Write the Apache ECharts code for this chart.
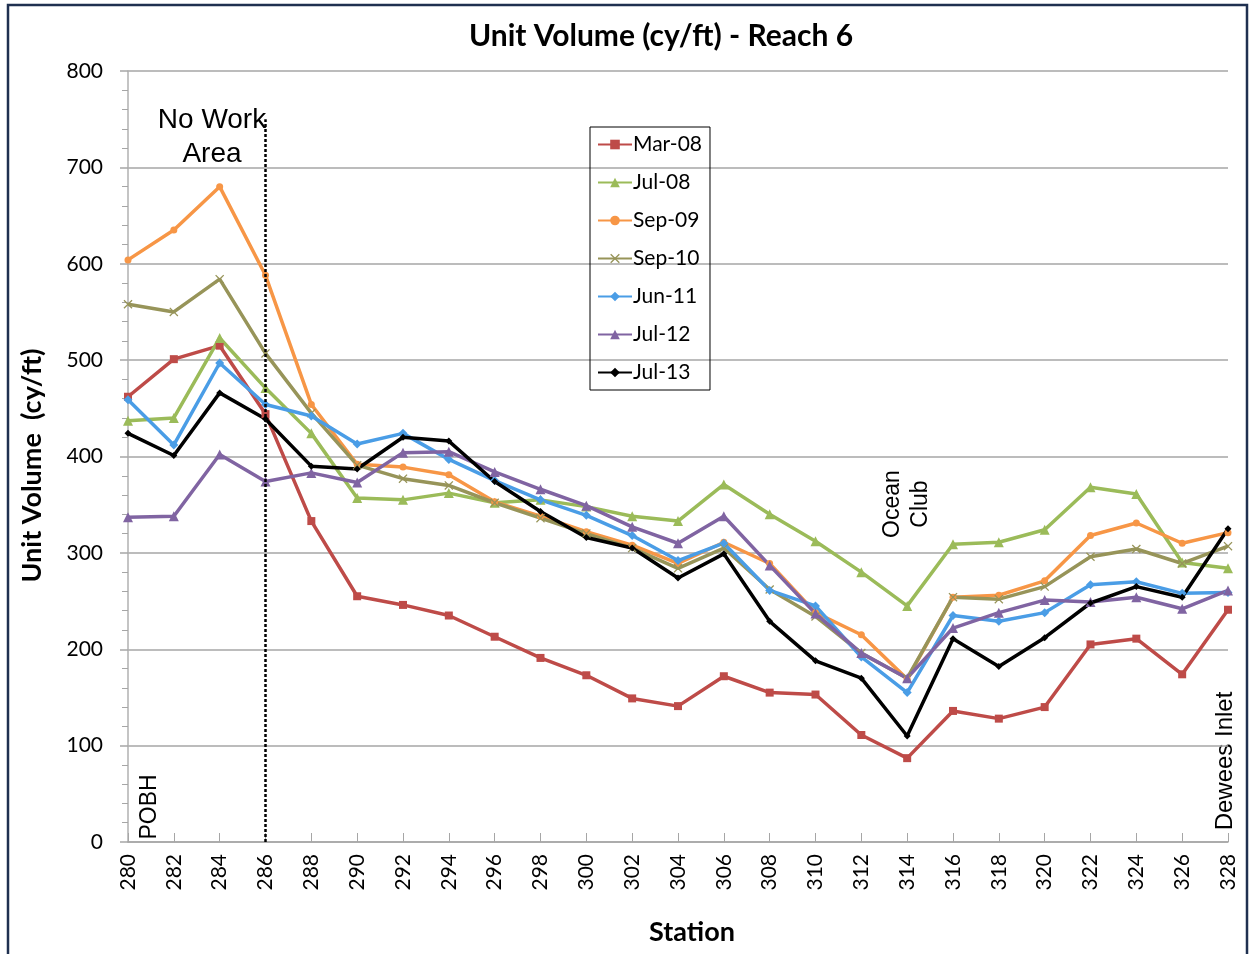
<!DOCTYPE html>
<html>
<head>
<meta charset="utf-8">
<script src="https://cdn.jsdelivr.net/npm/echarts@6/dist/echarts.min.js"></script>
<style>
  html, body { margin: 0; padding: 0; background: #fff; }
  #chart { width: 1249px; height: 954px; }
</style>
</head>
<body>
<div id="chart"></div>
<script>
// stations along the reach
const stations = ['280', '282', '284', '286', '288', '290', '292', '294', '296', '298', '300', '302', '304',
  '306', '308', '310', '312', '314', '316', '318', '320', '322', '324', '326', '328']

// unit volume per survey (cy/ft)
const mar08 = [462, 501, 515, 444, 333, 255, 246, 235, 213, 191, 173, 149, 141, 172, 155, 153, 111, 87, 136, 128, 140, 205, 211, 174, 241]
const jul08 = [437, 440, 523, 471, 424, 357, 355, 362, 352, 355, 348, 338, 333, 371, 340, 312, 280, 245, 309, 311, 324, 368, 361, 290, 284]
const sep09 = [604, 635, 680, 588, 454, 392, 389, 381, 353, 338, 322, 308, 289, 311, 289, 238, 215, 169, 254, 256, 271, 318, 331, 310, 321]
const sep10 = [558, 550, 584, 507, 445, 391, 377, 370, 352, 336, 320, 305, 284, 305, 262, 234, 196, 170, 254, 252, 265, 296, 304, 289, 307]
const jun11 = [459, 412, 497, 454, 442, 413, 424, 397, 375, 355, 339, 318, 292, 310, 261, 245, 192, 155, 235, 229, 238, 267, 270, 258, 259]
const jul12 = [337, 338, 402, 374, 383, 373, 404, 405, 384, 366, 349, 327, 310, 338, 287, 237, 196, 170, 222, 238, 251, 249, 254, 242, 261]
const jul13 = [424, 401, 466, 439, 390, 387, 420, 416, 374, 343, 316, 305, 274, 299, 229, 188, 170, 110, 211, 182, 212, 248, 265, 254, 325]

// y axis ticks
const yMin = 0
const yMax = 800
const yStep = 100

// no-work boundary
const noWorkStation = '286'
const noWorkTop = 750

const xMark = 'path://M0,1L1,0L5,4L9,0L10,1L6,5L10,9L9,10L5,6L1,10L0,9L4,5Z'

const seriesDefs = [
  { name: 'Mar-08', data: mar08, color: '#be4b48', symbol: 'rect', size: 8 },
  { name: 'Jul-08', data: jul08, color: '#9bbb59', symbol: 'triangle', size: 10 },
  { name: 'Sep-09', data: sep09, color: '#f79646', symbol: 'circle', size: 7 },
  { name: 'Sep-10', data: sep10, color: '#979459', symbol: xMark, size: 9 },
  { name: 'Jun-11', data: jun11, color: '#4a9de6', symbol: 'diamond', size: 9 },
  { name: 'Jul-12', data: jul12, color: '#8064a2', symbol: 'triangle', size: 10 },
  { name: 'Jul-13', data: jul13, color: '#000000', symbol: 'diamond', size: 7 }
]

const chart = echarts.init(document.getElementById('chart'))

const series = seriesDefs.map(s => ({
  name: s.name,
  type: 'line',
  data: s.data,
  symbol: s.symbol,
  symbolSize: s.size,
  showAllSymbol: true,
  lineStyle: { color: s.color, width: 3.5 },
  itemStyle: { color: s.color },
  z: 3
}))

// dotted line marking the edge of the no work area
series[0].markLine = {
  silent: true,
  symbol: 'none',
  label: { show: false },
  lineStyle: { color: '#000', type: [3, 2], width: 2.5 },
  data: [[{ coord: [noWorkStation, yMin] }, { coord: [noWorkStation, noWorkTop] }]]
}

const noteFont = 'Liberation Sans, Arial, sans-serif'

const option = {
  animation: false,
  backgroundColor: '#fff',
  title: {
    text: 'Unit Volume (cy/ft) - Reach 6',
    left: 464,
    top: 16,
    textStyle: { fontFamily: 'Lato', fontWeight: 'bold', fontSize: 30, color: '#000' }
  },
  legend: {
    orient: 'vertical',
    left: 590,
    top: 127,
    padding: [7, 8, 7, 7],
    borderColor: '#000',
    borderWidth: 1,
    itemWidth: 34,
    itemHeight: 12,
    itemGap: 17,
    textStyle: { fontFamily: 'Lato', fontSize: 21, color: '#000', lineHeight: 20, padding: [0, 0, 0, -4] },
    data: seriesDefs.map(s => s.name)
  },
  grid: {
    left: 128,
    right: 21,
    top: 71,
    bottom: 112
  },
  xAxis: {
    type: 'category',
    data: stations,
    boundaryGap: false,
    name: 'Station',
    nameLocation: 'middle',
    nameGap: 77,
    nameTextStyle: { fontFamily: 'Lato', fontWeight: 'bold', fontSize: 27, color: '#000', padding: [0, 0, 0, 28] },
    axisLine: { lineStyle: { color: '#a6a6a6', width: 1.5 } },
    axisTick: { show: true, inside: true, length: 9, interval: 0, lineStyle: { color: '#a6a6a6' } },
    axisLabel: { rotate: 90, margin: 12, interval: 0, fontFamily: 'Lato', fontSize: 21, color: '#000' },
    splitLine: { show: false }
  },
  yAxis: [
    {
      type: 'value',
      min: yMin,
      max: yMax,
      interval: yStep,
      name: 'Unit Volume  (cy/ft)',
      nameLocation: 'middle',
      nameGap: 82,
      nameTextStyle: { fontFamily: 'Lato', fontWeight: 'bold', fontSize: 27, color: '#000', padding: [0, 18, 0, 0] },
      axisLine: { show: true, lineStyle: { color: '#b0b0b0', width: 1.5 } },
      axisTick: { show: false },
      minorTick: { show: true, splitNumber: 5, length: 6, lineStyle: { color: '#a6a6a6' } },
      axisLabel: { margin: 25, fontFamily: 'Lato', fontSize: 21, color: '#000' },
      splitLine: { lineStyle: { color: '#a6a6a6', width: 1.5 } }
    },
    {
      // outward major ticks only
      type: 'value',
      position: 'left',
      min: yMin,
      max: yMax,
      interval: yStep,
      axisLine: { show: false },
      axisTick: { show: true, length: 8, lineStyle: { color: '#a6a6a6', width: 1.5 } },
      axisLabel: { show: false },
      splitLine: { show: false }
    }
  ],
  graphic: [
    {
      type: 'rect',
      silent: true,
      shape: { x: 8, y: 5, width: 1239, height: 970 },
      style: { fill: 'none', stroke: '#1f3050', lineWidth: 2.5 }
    },
    {
      type: 'text',
      x: 212, y: 137,
      style: { text: 'No Work\nArea', font: '28px ' + noteFont, fill: '#000', align: 'center', verticalAlign: 'middle', lineHeight: 34 }
    },
    {
      type: 'text',
      x: 150, y: 807, rotation: Math.PI / 2,
      style: { text: 'POBH', font: '23px ' + noteFont, fill: '#000', align: 'center', verticalAlign: 'middle' }
    },
    {
      type: 'text',
      x: 907, y: 504, rotation: Math.PI / 2,
      style: { text: 'Ocean\nClub', font: '23px ' + noteFont, fill: '#000', align: 'center', verticalAlign: 'middle', lineHeight: 28 }
    },
    {
      type: 'text',
      x: 1225, y: 761, rotation: Math.PI / 2,
      style: { text: 'Dewees Inlet', font: '24px ' + noteFont, fill: '#000', align: 'center', verticalAlign: 'middle' }
    }
  ],
  series: series
}

chart.setOption(option)
</script>
</body>
</html>
